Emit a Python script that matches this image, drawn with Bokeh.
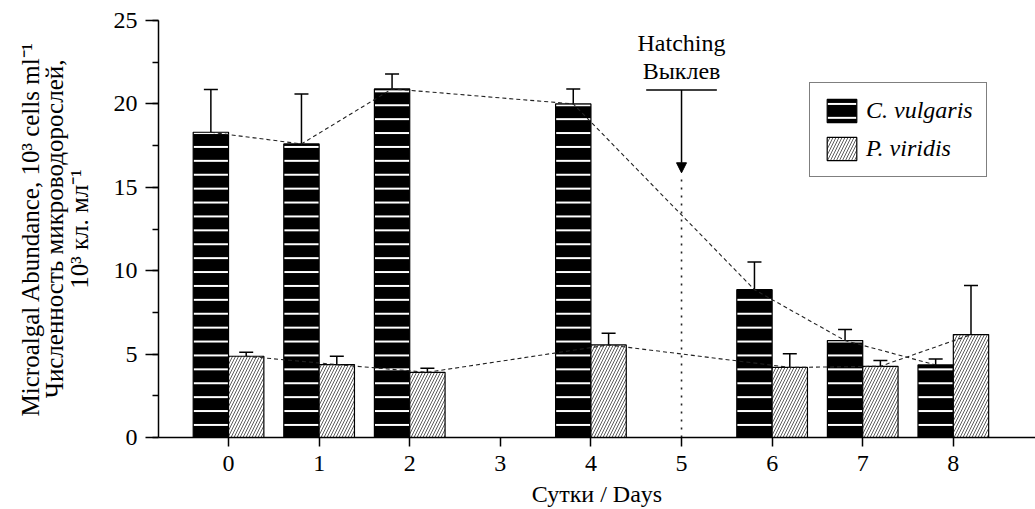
import math
from bokeh.plotting import figure
from bokeh.models import (Range1d, FixedTicker, SingleIntervalTicker, Whisker, TeeHead,
                          ColumnDataSource, Arrow, NormalHead)
from bokeh.core.properties import value
from bokeh.embed import file_html
from bokeh.resources import INLINE

# ---- data ----
days = [0, 1, 2, 4, 6, 7, 8]
x_ticks = [0, 1, 2, 3, 4, 5, 6, 7, 8]
cv_mean = [18.3, 17.6, 20.9, 20.0, 8.86, 5.81, 4.35]
cv_err = [2.56, 3.0, 0.9, 0.9, 1.66, 0.66, 0.36]
pv_mean = [4.87, 4.37, 3.91, 5.55, 4.2, 4.27, 6.17]
pv_err = [0.24, 0.5, 0.24, 0.7, 0.82, 0.34, 2.95]
hatch_day = 5
series_names = ["C. vulgaris", "P. viridis"]
y_title = ["Microalgal Abundance, 10³ cells ml⁻¹",
           "Численность микроводорослей,",
           "10³ кл. мл⁻¹"]

FONT = "Liberation Serif"
BW = 0.39
OFF = BW / 2

cv_x = [d - OFF for d in days]
pv_x = [d + OFF for d in days]

p = figure(width=1035, height=509, output_backend="svg", toolbar_location=None,
           x_range=Range1d(-0.773, 8.907), y_range=Range1d(0, 25),
           min_border_left=158, min_border_right=0, min_border_top=20, min_border_bottom=72)
p.outline_line_color = None
p.grid.visible = False
p.background_fill_color = "white"
p.border_fill_color = "white"

# bars
p.vbar(x=cv_x, top=cv_mean, width=BW, bottom=0, fill_color="black", line_color="black",
       line_width=1.2, hatch_pattern="-", hatch_color="white", hatch_scale=13.9,
       hatch_weight=2, legend_label=series_names[0])
p.vbar(x=pv_x, top=pv_mean, width=BW, bottom=0, fill_color="white", line_color="black",
       line_width=1.2, hatch_pattern="/", hatch_color="#333333", hatch_scale=6,
       hatch_weight=0.8, legend_label=series_names[1])

# error bars
for xs, m, e in ((cv_x, cv_mean, cv_err), (pv_x, pv_mean, pv_err)):
    src = ColumnDataSource(dict(base=xs, lower=m, upper=[a + b for a, b in zip(m, e)]))
    p.add_layout(Whisker(base="base", lower="lower", upper="upper", source=src,
                         lower_head=None,
                         upper_head=TeeHead(size=14, line_width=1.5, line_color="black"),
                         line_width=1.5, line_color="black"))

# trend lines
p.line(cv_x, cv_mean, line_dash="4 3", line_color="#222222", line_width=1.1)
p.line(pv_x, pv_mean, line_dash="4 3", line_color="#222222", line_width=1.1)

# hatching annotation
p.segment(x0=[hatch_day], y0=[0], x1=[hatch_day], y1=[15.6], line_dash="2 6",
          line_color="#222222", line_width=1.6)
p.segment(x0=[hatch_day - 0.39], y0=[20.84], x1=[hatch_day + 0.39], y1=[20.84],
          line_color="black", line_width=1.5)
p.add_layout(Arrow(x_start=hatch_day, y_start=20.84, x_end=hatch_day, y_end=15.87,
                   line_width=1.5, line_color="black",
                   end=NormalHead(size=10, fill_color="black", line_color="black")))
p.text(x=[hatch_day, hatch_day], y=[23.65, 21.95], text=["Hatching", "Выклев"],
       text_align="center", text_baseline="alphabetic", text_font=value(FONT),
       text_font_size="24px", text_color="black")

# axes
p.xaxis.ticker = FixedTicker(ticks=x_ticks)
p.xaxis.axis_label = "Сутки / Days"
p.xaxis.axis_label_text_font_size = "24px"
p.xaxis.axis_label_standoff = 7
p.xaxis.major_tick_out = 9
p.xaxis.major_tick_in = 0
p.xaxis.minor_tick_out = 0
p.xaxis.major_label_standoff = 9

p.yaxis.ticker = SingleIntervalTicker(interval=5, num_minor_ticks=2)
p.yaxis.major_tick_out = 13
p.yaxis.major_tick_in = 0
p.yaxis.minor_tick_out = 6
p.yaxis.minor_tick_in = 0
p.yaxis.major_label_standoff = 8
p.yaxis.axis_label = "\n".join(y_title)
p.yaxis.axis_label_text_font_size = "25px"
p.yaxis.axis_label_text_line_height = 0.9
p.yaxis.axis_label_standoff = 18

for ax in (p.xaxis, p.yaxis):
    ax.axis_line_width = 1.5
    ax.axis_line_color = "black"
    ax.major_tick_line_width = 1.5
    ax.minor_tick_line_width = 1.5
    ax.major_tick_line_color = "black"
    ax.minor_tick_line_color = "black"
    ax.major_label_text_font = FONT
    ax.major_label_text_font_size = "24px"
    ax.major_label_text_color = "black"
    ax.axis_label_text_font = FONT
    ax.axis_label_text_font_style = "normal"
    ax.axis_label_text_color = "black"

# legend
lg = p.legend[0]
lg.location = (651, 260)
lg.label_text_font = FONT
lg.label_text_font_style = "italic"
lg.label_text_font_size = "24px"
lg.label_text_color = "black"
lg.glyph_width = 37
lg.glyph_height = 29
lg.label_height = 29
lg.label_standoff = 6
lg.spacing = 9
lg.padding = 13
lg.margin = 0
lg.border_line_color = "black"
lg.border_line_width = 1.5
lg.background_fill_alpha = 1

open("out.html", "w").write(file_html(p, INLINE))
